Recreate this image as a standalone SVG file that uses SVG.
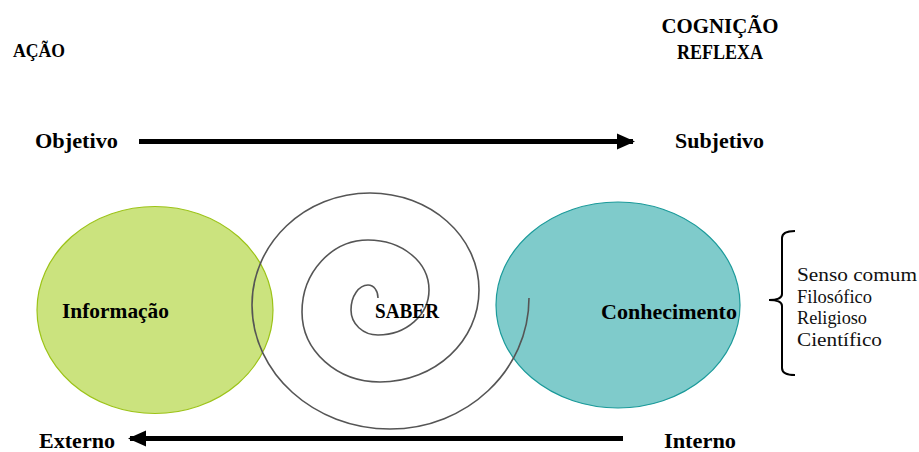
<svg xmlns="http://www.w3.org/2000/svg" width="919" height="452" viewBox="0 0 919 452">
  <defs>
    <style>
      .lbl { font-family: "Liberation Serif", "DejaVu Serif", serif; font-weight: bold; fill: #000; }
      .list { font-family: "Liberation Serif", "DejaVu Serif", serif; font-size: 19px; fill: #111; }
      .axis { stroke: #000; stroke-width: 5; fill: none; }
      .spiral { stroke: #555; stroke-width: 1.6; fill: none; }
    </style>
    <marker id="head" viewBox="0 0 18 18" refX="16" refY="9" markerWidth="18" markerHeight="18" markerUnits="userSpaceOnUse" orient="auto">
      <path d="M0,1 L18,9 L0,17 Z" fill="#000"/>
    </marker>
  </defs>
  <rect width="919" height="452" fill="#fff"/>

  <!-- corner headings -->
  <text class="lbl" x="13" y="57" font-size="19" textLength="52" lengthAdjust="spacingAndGlyphs">AÇÃO</text>
  <text class="lbl" x="720" y="33" font-size="21" text-anchor="middle" textLength="117" lengthAdjust="spacingAndGlyphs">COGNIÇÃO</text>
  <text class="lbl" x="720" y="59" font-size="21" text-anchor="middle" textLength="86" lengthAdjust="spacingAndGlyphs">REFLEXA</text>

  <!-- axis labels -->
  <text class="lbl" x="35" y="148" font-size="22" textLength="83" lengthAdjust="spacingAndGlyphs">Objetivo</text>
  <text class="lbl" x="675" y="148" font-size="22" textLength="89" lengthAdjust="spacingAndGlyphs">Subjetivo</text>
  <text class="lbl" x="39" y="448" font-size="22" textLength="76" lengthAdjust="spacingAndGlyphs">Externo</text>
  <text class="lbl" x="664" y="448" font-size="22" textLength="72" lengthAdjust="spacingAndGlyphs">Interno</text>

  <!-- nodes -->
  <g id="informacao">
    <ellipse cx="155" cy="310" rx="118" ry="103.5" fill="#c7e173" fill-opacity="0.92" stroke="#9cc318" stroke-width="1.2"/>
    <text class="lbl" x="62" y="318" font-size="21" textLength="107" lengthAdjust="spacingAndGlyphs">Informação</text>
  </g>
  <g id="conhecimento">
    <ellipse cx="618" cy="305" rx="122" ry="103" fill="#78c8c8" fill-opacity="0.95" stroke="#1b9a9a" stroke-width="1.2"/>
    <text class="lbl" x="601" y="319" font-size="21" textLength="136" lengthAdjust="spacingAndGlyphs">Conhecimento</text>
  </g>
  <g id="saber">
    <path class="spiral" d="M378,298 C378,291 374,285 368,285 C359,285 351,296 351,310 C351,324 363,335 378,335 C406,335 429,315 429,290 C429,262 402,240 368,240 C332,240 302,272 302,312 C302,351 337,382 380,382 C435,382 479,341 479,290 C479,236 430,193 370,193 C305,193 252,243 252,305 C252,373 314,429 390,429 C467,429 529,370 529,298"/>
    <text class="lbl" x="375" y="318" font-size="21" textLength="64" lengthAdjust="spacingAndGlyphs">SABER</text>
  </g>
  <g id="tipos">
    <path d="M795,231 Q782,231 782,238 L782,294 Q782,300 769,300 Q782,300 782,306 L782,368 Q782,375 795,375" fill="none" stroke="#000" stroke-width="2"/>
    <text class="list" x="797" y="281" textLength="120" lengthAdjust="spacingAndGlyphs">Senso comum</text>
    <text class="list" x="797" y="303" textLength="75" lengthAdjust="spacingAndGlyphs">Filosófico</text>
    <text class="list" x="797" y="324" textLength="70" lengthAdjust="spacingAndGlyphs">Religioso</text>
    <text class="list" x="797" y="346" textLength="85" lengthAdjust="spacingAndGlyphs">Científico</text>
  </g>

  <!-- connectors -->
  <g id="connectors">
    <line class="axis" x1="139" y1="141.5" x2="633" y2="141.5" marker-end="url(#head)"/>
    <line class="axis" x1="623" y1="438.5" x2="130" y2="438.5" marker-end="url(#head)"/>
  </g>
</svg>
